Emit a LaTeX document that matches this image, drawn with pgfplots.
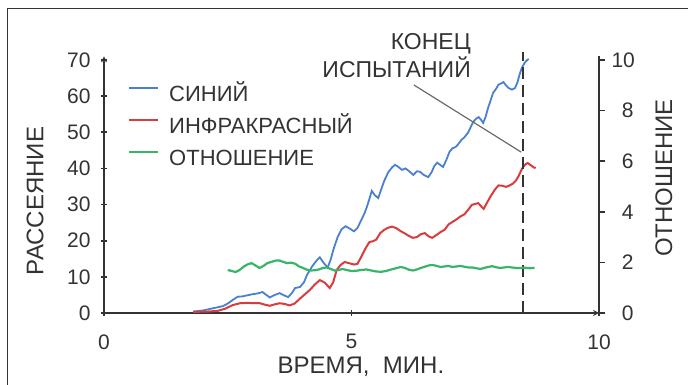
\documentclass[border=0pt]{standalone}
\usepackage{fontspec}
\setmainfont{Liberation Sans}
\usepackage{pgfplots}
\pgfplotsset{compat=1.18}

\definecolor{ink}{HTML}{333333}
\definecolor{cblue}{HTML}{4A80CF}
\definecolor{cred}{HTML}{D83C3C}
\definecolor{cgreen}{HTML}{38B56A}
\definecolor{leader}{HTML}{6A6A6A}

\pgfplotsset{
  common/.style={
    at={(104bp,72bp)}, anchor=south west,
    scale only axis, width=495bp, height=256.6bp,
    xmin=0, xmax=10,
    axis line style={-, ink, line width=1.6bp},
    tick align=outside, major tick length=6bp,
    tick style={ink, line width=1.6bp},
    ticklabel style={font=\fontsize{21bp}{21bp}\selectfont, text=ink},
    /pgf/number format/assume math mode=true,
    label style={font=\fontsize{24bp}{24bp}\selectfont, text=ink},
    clip=false,
  },
}

\begin{document}
\begin{tikzpicture}
\useasboundingbox (0,0) rectangle (688bp,385bp);
% frame around the figure
\draw[ink, line width=1bp] (7bp,-10bp) -- (7bp,376bp) -- (700bp,376bp);

% scattering signals (left axis)
\begin{axis}[
  common,
  ymin=0, ymax=71,
  axis x line=bottom, axis y line=left,
  xtick={0,5,10}, ytick={0,10,...,70},
  xticklabel style={yshift=-15bp},
  yticklabel style={xshift=-7bp},
  xlabel={ВРЕМЯ,\ \ МИН.},
  xlabel style={at={(axis description cs:0.519,-0.210)}, anchor=center},
  ylabel={РАССЕЯНИЕ},
  ylabel style={at={(axis description cs:-0.139,0.436)}, anchor=center},
  legend style={at={(axis description cs:0.0485,0.883)}, anchor=north west,
    draw=none, fill=none, inner sep=0pt, outer sep=0pt,
    font=\fontsize{22bp}{22bp}\selectfont, text=ink,
    row sep=14bp, column sep=10bp,
    nodes={inner sep=0pt, text height=15bp, text depth=3bp}},
  legend cell align=left,
  legend image code/.code={\path (0bp,0bp); \draw[#1] (0bp,7.5bp) -- (29bp,7.5bp);},
]
\addplot[cblue, line width=1.8bp] coordinates {
(1.80,0.4)(2.0,0.7)(2.2,1.3)(2.4,1.9)(2.5,2.6)(2.6,3.6)(2.7,4.5)(2.8,4.6)(2.9,4.9)
(3.0,5.2)(3.1,5.4)(3.2,5.8)(3.3,4.8)(3.35,4.3)(3.45,5.0)(3.55,5.5)(3.65,4.8)(3.72,4.4)
(3.8,5.6)(3.86,6.9)(3.96,7.2)(4.04,8.5)(4.1,10.5)(4.2,12.8)(4.3,14.6)(4.36,15.4)
(4.44,13.8)(4.52,12.6)(4.58,14.8)(4.64,17.8)(4.72,21.0)(4.80,23.2)(4.88,24.0)(4.96,23.4)
(5.05,22.6)(5.12,23.5)(5.20,25.8)(5.26,27.5)(5.31,29.3)(5.36,31.5)(5.41,33.8)(5.47,32.6)
(5.54,31.8)(5.60,34.2)(5.66,36.5)(5.74,38.9)(5.82,40.3)(5.88,41.0)(5.95,40.4)(6.02,39.6)
(6.09,40.0)(6.14,39.5)(6.20,38.8)(6.25,38.2)(6.32,39.2)(6.38,39.1)(6.46,38.2)(6.55,37.6)
(6.62,39.0)(6.67,40.6)(6.73,41.6)(6.79,41.0)(6.85,40.4)(6.92,42.5)(6.98,44.6)(7.04,45.6)
(7.10,45.9)(7.15,46.6)(7.22,47.9)(7.28,48.6)(7.35,49.8)(7.41,51.5)(7.46,52.9)(7.52,53.8)
(7.57,54.2)(7.62,53.4)(7.66,52.6)(7.71,54.3)(7.76,56.8)(7.81,58.8)(7.86,60.9)(7.92,62.0)
(7.97,63.2)(8.02,63.5)(8.07,63.9)(8.12,63.0)(8.17,62.3)(8.24,61.8)(8.30,62.2)(8.35,63.7)
(8.40,66.2)(8.44,67.8)(8.50,69.3)(8.55,70.0)(8.58,70.3)
};
\addlegendentry{СИНИЙ}
\addplot[cred, line width=2bp] coordinates {
(1.80,0.3)(2.1,0.4)(2.3,0.6)(2.45,1.2)(2.6,2.2)(2.75,2.7)(2.9,2.8)(3.05,2.7)(3.15,2.7)
(3.25,2.3)(3.35,2.0)(3.45,2.4)(3.55,2.7)(3.65,2.5)(3.75,2.1)(3.85,2.6)(3.96,4.0)(4.06,5.2)
(4.16,6.4)(4.26,7.9)(4.36,9.1)(4.46,8.4)(4.56,6.9)(4.63,8.5)(4.70,11.9)(4.78,13.3)
(4.86,14.1)(4.95,13.8)(5.05,13.4)(5.12,13.6)(5.20,15.6)(5.28,17.8)(5.36,19.6)(5.44,19.9)
(5.50,20.3)(5.58,22.1)(5.66,23.0)(5.74,23.6)(5.82,23.9)(5.90,23.5)(6.00,22.6)(6.08,22.0)
(6.15,21.4)(6.24,20.8)(6.32,21.0)(6.40,21.8)(6.48,22.1)(6.56,21.2)(6.63,20.8)(6.72,21.6)
(6.80,22.4)(6.88,23.0)(6.96,24.5)(7.04,25.2)(7.12,25.9)(7.20,26.7)(7.28,27.3)(7.36,28.6)
(7.43,29.9)(7.50,30.2)(7.56,30.4)(7.62,29.5)(7.67,28.8)(7.74,30.6)(7.82,32.5)(7.90,34.2)
(7.97,35.3)(8.05,35.2)(8.12,34.9)(8.18,35.2)(8.26,35.8)(8.32,36.6)(8.38,38.0)(8.44,39.8)
(8.50,41.0)(8.56,41.5)(8.62,40.9)(8.68,40.3)(8.72,40.1)
};
\addlegendentry{ИНФРАКРАСНЫЙ}
\addlegendimage{cgreen, line width=2.2bp}
\addlegendentry{ОТНОШЕНИЕ}

% end-of-test marker and its leader
\addplot[forget plot, ink, line width=1.6bp, dash pattern=on 12bp off 6bp]
  coordinates {(8.46,0)(8.46,72.3)};
\addplot[forget plot, leader, line width=1.2bp]
  coordinates {(6.26,63.1)(8.43,44.5)};
\node[anchor=east, align=right, inner sep=0pt, text=ink,
      font=\fontsize{23bp}{28bp}\selectfont] at (axis cs:7.414,71.1)
  {КОНЕЦ\\ИСПЫТАНИЙ};
\end{axis}

% ratio (right axis)
\begin{axis}[
  common,
  ymin=0, ymax=10.142857,
  axis x line=none, axis y line*=right,
  ytick={0,2,...,10},
  yticklabel style={text width=22bp, align=right, xshift=3bp},
  ylabel={ОТНОШЕНИЕ},
  ylabel style={at={(axis description cs:1.131,0.526)}, anchor=center},
]
\addplot[cgreen, line width=2.2bp] coordinates {
(2.50,1.70)(2.58,1.66)(2.66,1.62)(2.74,1.70)(2.82,1.83)(2.90,1.92)(2.98,1.97)(3.06,1.88)
(3.14,1.78)(3.22,1.86)(3.30,1.97)(3.38,2.02)(3.46,2.07)(3.54,2.08)(3.62,2.02)(3.70,1.97)
(3.78,1.99)(3.86,1.95)(3.94,1.84)(4.02,1.78)(4.10,1.71)(4.18,1.68)(4.26,1.69)(4.34,1.72)
(4.42,1.78)(4.50,1.80)(4.58,1.74)(4.66,1.68)(4.74,1.70)(4.82,1.74)(4.90,1.70)(5.00,1.66)
(5.10,1.67)(5.20,1.70)(5.30,1.72)(5.40,1.68)(5.50,1.64)(5.60,1.63)(5.70,1.66)(5.80,1.72)
(5.90,1.77)(6.00,1.82)(6.08,1.78)(6.16,1.71)(6.24,1.68)(6.32,1.72)(6.40,1.78)(6.48,1.83)
(6.56,1.88)(6.64,1.90)(6.72,1.86)(6.80,1.82)(6.88,1.84)(6.96,1.86)(7.04,1.82)(7.12,1.84)
(7.20,1.86)(7.28,1.83)(7.36,1.80)(7.44,1.80)(7.52,1.77)(7.60,1.74)(7.68,1.78)(7.76,1.82)
(7.84,1.85)(7.92,1.81)(8.00,1.78)(8.08,1.80)(8.16,1.82)(8.24,1.80)(8.32,1.78)(8.40,1.78)
(8.50,1.79)(8.60,1.77)(8.70,1.78)
};
\end{axis}
\end{tikzpicture}
\end{document}
